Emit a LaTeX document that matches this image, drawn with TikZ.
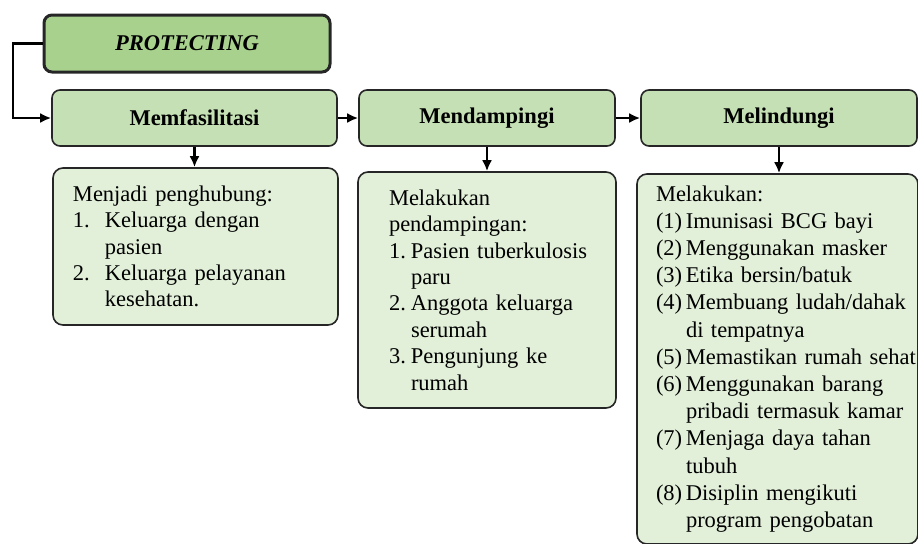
\documentclass[tikz,border=0pt]{standalone}
\usepackage{fontspec}
\setmainfont{Liberation Serif}
\usetikzlibrary{arrows.meta,positioning}
\definecolor{greenmid}{HTML}{A9D18E}
\definecolor{greenlight}{HTML}{C5E0B4}
\definecolor{greenpale}{HTML}{E2F0D9}
% list lines: numbered line and its continuation
\newcommand{\itemline}[3][16pt]{\mbox{\makebox[#1][l]{#2}#3}}
\newcommand{\wrapline}[2][16pt]{\mbox{\hspace*{#1}#2}}

\begin{document}
\begin{tikzpicture}[x=0.5pt,y=-0.5pt,
    headbox/.style={draw=black!85, line width=0.8pt, rounded corners=4pt, fill=greenlight,
      minimum height=28pt, font=\fontsize{11.25}{13.4}\selectfont\bfseries},
    listbox/.style={draw=black!85, line width=0.8pt, rounded corners=5pt, fill=greenpale,
      align=left, font=\fontsize{11.25}{13.2}\selectfont},
    link/.style={-{Latex[length=5.5pt,width=5pt]}, line width=1.1pt}]
\useasboundingbox (0,0) rectangle (918,543);

% Top box
\node[headbox, fill=greenmid, line width=1.5pt, minimum width=143pt, minimum height=28.5pt,
  font=\fontsize{11.25}{13.4}\selectfont\bfseries\itshape] (prot) at (187,43.5) {PROTECTING};

% Headings
\node[headbox, minimum width=142.5pt] (memf) at (194.5,118) {Memfasilitasi};
\node[headbox, minimum width=128pt] (mend) at (487,118) {Mendampingi};
\node[headbox, minimum width=138pt] (meli) at (779,118) {Melindungi};

% Lists
\node[listbox, inner xsep=10pt, text width=122.5pt, minimum height=78.5pt] (fasil) at (195.5,246.5) {%
  Menjadi penghubung:\\
  \itemline{1.}{Keluarga dengan}\\
  \wrapline{pasien}\\
  \itemline{2.}{Keluarga pelayanan}\\
  \wrapline{kesehatan.}};
\node[listbox, inner xsep=15.5pt, text width=98pt, minimum height=118pt] (damping) at (487,290) {%
  Melakukan\\
  pendampingan:\\
  \itemline[11pt]{1.}{Pasien tuberkulosis}\\
  \wrapline[11pt]{paru}\\
  \itemline[11pt]{2.}{Anggota keluarga}\\
  \wrapline[11pt]{serumah}\\
  \itemline[11pt]{3.}{Pengunjung ke}\\
  \wrapline[11pt]{rumah}};
\node[listbox, inner xsep=9.5pt, text width=121.5pt, minimum height=185pt,
  font=\fontsize{11.25}{13.6}\selectfont] (lindung) at (777.5,359) {%
  Melakukan:\\
  \itemline[15pt]{(1)}{Imunisasi BCG bayi}\\
  \itemline[15pt]{(2)}{Menggunakan masker}\\
  \itemline[15pt]{(3)}{Etika bersin/batuk}\\
  \itemline[15pt]{(4)}{Membuang ludah/dahak}\\
  \wrapline[15pt]{di tempatnya}\\
  \itemline[15pt]{(5)}{Memastikan rumah sehat}\\
  \itemline[15pt]{(6)}{Menggunakan barang}\\
  \wrapline[15pt]{pribadi termasuk kamar}\\
  \itemline[15pt]{(7)}{Menjaga daya tahan}\\
  \wrapline[15pt]{tubuh}\\
  \itemline[15pt]{(8)}{Disiplin mengikuti}\\
  \wrapline[15pt]{program pengobatan}};

% Arrows
\draw[link] (prot.west) -- ++(-29.5,0) |- (memf.west);
\draw[link] (memf.east) -- (mend.west);
\draw[link] (mend.east) -- (meli.west);
\draw[link] (memf.south) -- (memf.south |- fasil.north);
\draw[link] (mend.south) -- (mend.south |- damping.north);
\draw[link] (meli.south) -- (meli.south |- lindung.north);
\end{tikzpicture}
\end{document}
